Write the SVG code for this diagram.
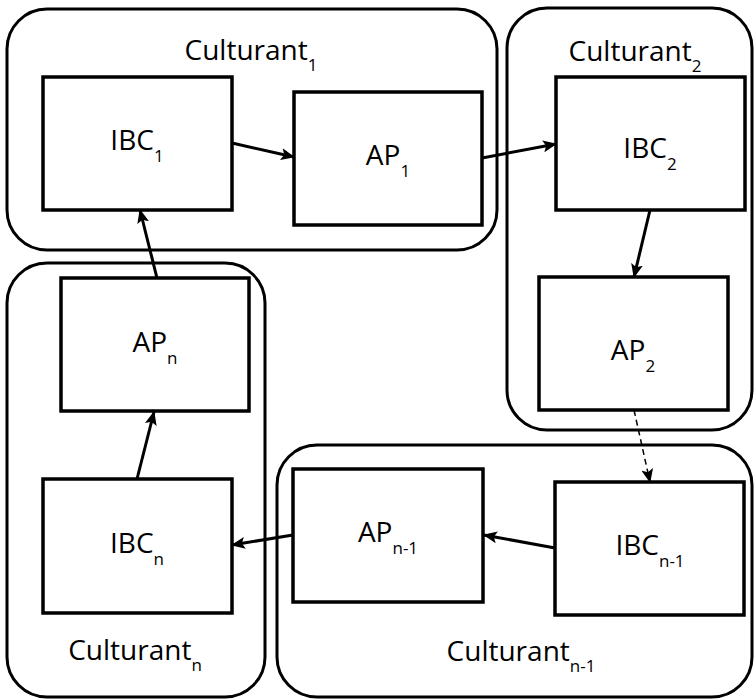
<svg xmlns="http://www.w3.org/2000/svg" width="756" height="700" viewBox="0 0 756 700">
<style>
.grp{fill:none;stroke:#000;stroke-width:3}
.box{fill:#fff;stroke:#000;stroke-width:3.5}
.t{font-family:"Open Sans","Noto Sans",sans-serif;font-size:28px;fill:#000;text-anchor:middle}
.s{font-size:17px}
.c{fill:none;stroke:#000;stroke-width:3}
.d{fill:none;stroke:#000;stroke-width:1.5;stroke-dasharray:6 4}
</style>
<defs>
<marker id="ah" markerUnits="userSpaceOnUse" markerWidth="14" markerHeight="12" refX="13" refY="6" orient="auto">
<path d="M0,0 L14,6 L0,12 L3,6 Z" fill="#000"/>
</marker>
</defs>
<g id="culturant1">
<rect class="grp" x="7" y="9" width="490" height="241" rx="40"/>
<text class="t" x="251" y="60">Culturant<tspan class="s" dy="11">1</tspan></text>
</g>
<g id="culturant2">
<rect class="grp" x="507" y="8" width="245" height="422" rx="40"/>
<text class="t" x="635" y="61">Culturant<tspan class="s" dy="11">2</tspan></text>
</g>
<g id="culturantn">
<rect class="grp" x="7" y="263" width="258" height="434" rx="40"/>
<text class="t" x="135" y="660">Culturant<tspan class="s" dy="11">n</tspan></text>
</g>
<g id="culturantn-1">
<rect class="grp" x="277" y="445" width="475" height="252" rx="40"/>
<text class="t" x="521" y="661">Culturant<tspan class="s" dy="11">n-1</tspan></text>
</g>
<g id="connectors">
<line class="c" x1="232" y1="143" x2="294" y2="157" marker-end="url(#ah)"/>
<line class="c" x1="482" y1="158" x2="556" y2="144" marker-end="url(#ah)"/>
<line class="c" x1="650" y1="210" x2="634" y2="277" marker-end="url(#ah)"/>
<line class="d" x1="634" y1="410" x2="650" y2="482" marker-end="url(#ah)"/>
<line class="c" x1="555" y1="548" x2="484" y2="535" marker-end="url(#ah)"/>
<line class="c" x1="293" y1="535" x2="232" y2="545" marker-end="url(#ah)"/>
<line class="c" x1="137" y1="479" x2="154" y2="412" marker-end="url(#ah)"/>
<line class="c" x1="157" y1="278" x2="140" y2="210" marker-end="url(#ah)"/>
</g>
<g id="ibc1">
<rect class="box" x="43" y="77" width="189" height="133"/>
<text class="t" x="137" y="150">IBC<tspan class="s" dy="12">1</tspan></text>
</g>
<g id="ap1">
<rect class="box" x="294" y="92" width="188" height="133"/>
<text class="t" x="388" y="165">AP<tspan class="s" dy="12">1</tspan></text>
</g>
<g id="ibc2">
<rect class="box" x="556" y="77" width="189" height="133"/>
<text class="t" x="650" y="158">IBC<tspan class="s" dy="12">2</tspan></text>
</g>
<g id="ap2">
<rect class="box" x="539" y="277" width="189" height="133"/>
<text class="t" x="633" y="360">AP<tspan class="s" dy="12">2</tspan></text>
</g>
<g id="ibcn-1">
<rect class="box" x="555" y="482" width="189" height="133"/>
<text class="t" x="650" y="555">IBC<tspan class="s" dy="12">n-1</tspan></text>
</g>
<g id="apn-1">
<rect class="box" x="293" y="469" width="190" height="133"/>
<text class="t" x="388" y="542">AP<tspan class="s" dy="12">n-1</tspan></text>
</g>
<g id="ibcn">
<rect class="box" x="43" y="479" width="189" height="134"/>
<text class="t" x="137" y="553">IBC<tspan class="s" dy="12">n</tspan></text>
</g>
<g id="apn">
<rect class="box" x="61" y="278" width="188" height="133"/>
<text class="t" x="155" y="352">AP<tspan class="s" dy="12">n</tspan></text>
</g>
</svg>
